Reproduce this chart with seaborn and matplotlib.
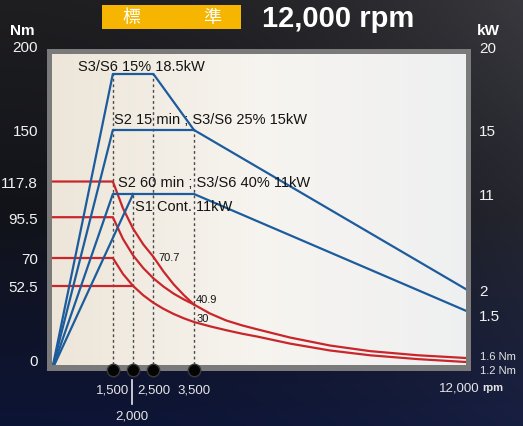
import numpy as np
import matplotlib
matplotlib.use("Agg")
import matplotlib.pyplot as plt
from matplotlib.patches import Rectangle
import seaborn as sns

# ---------------- data ----------------
# power curves (rpm, kW)
rpm_s3_15 = [0, 1500, 2500, 3500, 12000]
kw_s3_15 = [0, 18.5, 18.5, 15, 5.05]
rpm_s2_15 = [0, 1500, 3500]
kw_s2_15 = [0, 15, 15]
rpm_s2_60 = [0, 1500, 3500, 12000]
kw_s2_60 = [0, 11, 11, 3.7]
rpm_s1 = [0, 2000]
kw_s1 = [0, 11]

# torque curves (rpm, Nm)
rpm_t_s3_15 = [0, 1500, 1750, 2000, 2250, 2500, 2750, 3000, 3250, 3500,
               4000, 4500, 5000, 5500, 6500, 7750, 9000, 10500, 12000]
nm_t_s3_15 = [117.8, 117.8, 101, 88.3, 78.5, 70.7, 61.5, 53.5, 46.8, 40.9,
              35.3, 31.0, 27.9, 25.3, 20.3, 15.3, 11.8, 9.2, 7.5]
rpm_t_s2_15 = [0, 1500, 1750, 2000, 2250, 2500, 2750, 3000, 3250, 3500]
nm_t_s2_15 = [95.5, 95.5, 81.9, 71.6, 63.7, 57.3, 52.1, 47.7, 44.1, 40.9]
rpm_t_s2_60 = [0, 1500, 1750, 2000, 2250, 2500, 2750, 3000, 3250, 3500,
               4000, 4500, 5000, 5500, 6500, 7750, 9000, 10500, 12000]
nm_t_s2_60 = [70, 70, 60, 52.5, 46.7, 42, 38.2, 35, 32.3, 30,
              27.3, 24.9, 22.7, 20.8, 16.5, 12.2, 9.2, 6.8, 5]
rpm_t_s1 = [0, 2000]
nm_t_s1 = [52.5, 52.5]

marker_rpm = [1500, 2000, 2500, 3500]
guide_top_nm = [185, 110, 185, 150]

left_tick_vals = [52.5, 70, 95.5, 117.8, 150]
left_tick_labels = ["52.5", "70", "95.5", "117.8", "150"]
right_tick_vals = [11, 15]
right_tick_labels = ["11", "15"]
x_tick_vals = [1500, 2500, 3500]
x_tick_labels = ["1,500", "2,500", "3,500"]

# ---------------- style ----------------
plt.rcParams["font.family"] = ["Liberation Sans", "DejaVu Sans"]
BLUE = "#1d5c9c"
RED = "#c9262b"
W, H = 523, 427

fig = plt.figure(figsize=(W / 100, H / 100), dpi=100)

# background axes in pixel coordinates
bg = fig.add_axes([0, 0, 1, 1], zorder=-5)
bg.set_xlim(0, W)
bg.set_ylim(H, 0)
bg.axis("off")

ty = np.linspace(0, 1, 200)[:, None]
tx = np.linspace(0, 1, 260)[None, :]
top = np.array([0.12, 0.12, 0.13])
mid = np.array([0.07, 0.075, 0.10])
bot = np.array([0.05, 0.08, 0.21])
wv1 = np.clip(ty / 0.5, 0, 1)[..., None]
wv2 = np.clip((ty - 0.5) / 0.5, 0, 1)[..., None]
col = np.where(ty[..., None] < 0.5, top * (1 - wv1) + mid * wv1, mid * (1 - wv2) + bot * wv2)
col = col + 0.10 * (tx[..., None] ** 2) * (1 - 0.6 * ty[..., None]) * np.array([1, 1, 1.1])
col = np.clip(np.broadcast_to(col, (200, 260, 3)), 0, 1)
bg.imshow(col, extent=[0, W, H, 0], aspect="auto", zorder=0, interpolation="bilinear")

# grey frame
bg.add_patch(Rectangle((47, 50), 424, 322, facecolor="#7a7a7a", edgecolor="none", zorder=1))
# plot-area gradient
gx = np.linspace(0, 1, 300)
stops_x = [0, 0.5, 1]
cr = np.interp(gx, stops_x, [0.93, 0.968, 0.935])
cg = np.interp(gx, stops_x, [0.90, 0.958, 0.94])
cb = np.interp(gx, stops_x, [0.85, 0.94, 0.945])
grad = np.stack([cr, cg, cb], axis=-1)[None, :, :]
bg.imshow(grad, extent=[52, 466, 366, 55], aspect="auto", zorder=2, interpolation="bilinear")

# title box
bg.add_patch(Rectangle((102, 6), 139, 24, facecolor="#f6b500", edgecolor="none", zorder=3))
# 2,000 connector line
bg.plot([132, 132], [381, 405], color="#e8e8e8", lw=1.2, zorder=3)

# ---------------- main axes ----------------
K = 0.7888


def fwd(x):
    x = np.asarray(x, dtype=float)
    return np.where(x <= 3500, x, 3500 + (x - 3500) * K)


def inv(u):
    u = np.asarray(u, dtype=float)
    return np.where(u <= 3500, u, 3500 + (u - 3500) / K)


ax = fig.add_axes([52 / W, (H - 366) / H, 414 / W, 311 / H])
ax.set_xscale("function", functions=(fwd, inv))
ax.patch.set_visible(False)

# dotted guides
ax.vlines(marker_rpm, 0, guide_top_nm, colors="#4a4a4a", linestyles=(0, (2, 2)), lw=1.0, zorder=1)

# torque curves
for xs, ys in [(rpm_t_s3_15, nm_t_s3_15), (rpm_t_s2_15, nm_t_s2_15),
               (rpm_t_s2_60, nm_t_s2_60), (rpm_t_s1, nm_t_s1)]:
    sns.lineplot(x=xs, y=ys, ax=ax, color=RED, linewidth=1.6, estimator=None, sort=False, zorder=3)

ax.scatter(marker_rpm, [0] * len(marker_rpm), s=80, color="#050505", edgecolor="#3a3a3a",
           linewidth=1.0, zorder=6, clip_on=False)

ax.set_xlim(0, 12000)
ax.set_ylim(3.125, 197.5)
for s in ax.spines.values():
    s.set_visible(False)
ax.set_yticks(left_tick_vals, left_tick_labels)
ax.set_xticks(x_tick_vals, x_tick_labels)
ax.xaxis.set_minor_locator(matplotlib.ticker.NullLocator())
ax.tick_params(axis="y", length=0, pad=10, labelsize=11, labelcolor="#f2f2f2")
ax.tick_params(axis="x", length=0, pad=13.5, labelsize=9.5, labelcolor="#e6e6e6")
ax.set_xlabel("")
ax.set_ylabel("")

ax2 = ax.twinx()
ax2.patch.set_visible(False)
for xs, ys in [(rpm_s3_15, kw_s3_15), (rpm_s2_15, kw_s2_15),
               (rpm_s2_60, kw_s2_60), (rpm_s1, kw_s1)]:
    sns.lineplot(x=xs, y=ys, ax=ax2, color=BLUE, linewidth=1.6, estimator=None, sort=False, zorder=3)
ax2.set_ylim(0.3125, 19.75)
ax2.set_xlim(0, 12000)
for s in ax2.spines.values():
    s.set_visible(False)
ax2.set_yticks(right_tick_vals, right_tick_labels)
ax2.tick_params(axis="y", length=0, pad=9.4, labelsize=11, labelcolor="#f2f2f2")
ax2.set_ylabel("")


# ---------------- texts (pixel positions) ----------------
def ftext(x, y, s, **kw):
    fig.text(x / W, 1 - y / H, s, **kw)


ftext(131, 18, "標", ha="center", va="center", color="white", fontsize=13,
      family=["Noto Sans CJK TC", "DejaVu Sans"])
ftext(212, 18, "準", ha="center", va="center", color="white", fontsize=13,
      family=["Noto Sans CJK TC", "DejaVu Sans"])
ftext(338, 19, "12,000 rpm", ha="center", va="center", color="white", fontsize=21, fontweight="bold")

ftext(22, 31, "Nm", ha="center", va="center", color="white", fontsize=11, fontweight="bold")
ftext(488, 31, "kW", ha="center", va="center", color="white", fontsize=11, fontweight="bold")
ftext(38, 48, "200", ha="right", va="center", color="#f2f2f2", fontsize=11)
ftext(38, 362, "0", ha="right", va="center", color="#f2f2f2", fontsize=11)
ftext(479, 49, "20", ha="left", va="center", color="#f2f2f2", fontsize=11)
ftext(479, 292, "2", ha="left", va="center", color="#f2f2f2", fontsize=11)
ftext(479, 317, "1.5", ha="left", va="center", color="#f2f2f2", fontsize=11)

ftext(480, 357, "1.6 Nm", ha="left", va="center", color="#e6e6e6", fontsize=8)
ftext(480, 371, "1.2 Nm", ha="left", va="center", color="#e6e6e6", fontsize=8)
ftext(439, 389, "12,000", ha="left", va="center", color="#e6e6e6", fontsize=9.5)
ftext(482, 388, "rpm", ha="left", va="center", color="#e6e6e6", fontsize=8, fontweight="bold")
ftext(132, 417, "2,000", ha="center", va="center", color="#e6e6e6", fontsize=9.5)

ann = dict(ha="left", va="center", color="#141414", fontsize=10.5)
ftext(78, 67, "S3/S6 15% 18.5kW", **ann)
ftext(114, 120, "S2 15 min ; S3/S6 25% 15kW", **ann)
ftext(118, 183, "S2 60 min ; S3/S6 40% 11kW", **ann)
ftext(135, 207, "S1 Cont. 11kW", **ann)
small = dict(ha="left", va="center", color="#141414", fontsize=8)
ftext(158, 258, "70.7", **small)
ftext(196, 300, "40.9", **small)
ftext(197, 319, "30", **small)

fig.savefig("out.png", dpi=100)
